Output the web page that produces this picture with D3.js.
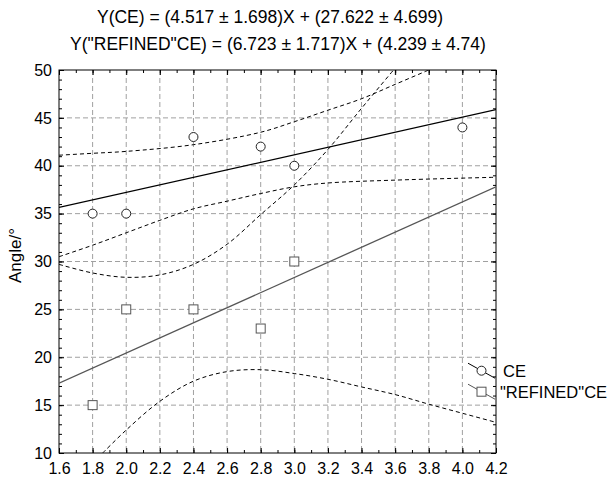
<!DOCTYPE html>
<html>
<head>
<meta charset="utf-8">
<script src="https://cdn.jsdelivr.net/npm/d3@7"></script>
<style>
  body { margin: 0; background: #fff; }
  text { font-family: "Liberation Sans", Arial, sans-serif; }
</style>
</head>
<body>
<div id="chart"></div>
<script>
// observed points
const ceX = [1.8, 2.0, 2.4, 2.8, 3.0, 4.0];
const ceY = [35, 35, 43, 42, 40, 44];
const refX = [1.8, 2.0, 2.4, 2.8, 3.0];
const refY = [15, 25, 25, 23, 30];

// dashed band curves
const ceUpper = [[1.6, 41.1], [1.8, 41.3], [2.0, 41.5], [2.4, 42.2], [2.8, 43.5], [3.0, 44.6], [3.2, 45.8], [3.4, 47.0], [3.6, 48.5], [3.8, 50.0]];
const ceLower = [[1.6, 30.5], [1.8, 31.7], [2.0, 33.0], [2.2, 34.3], [2.4, 35.5], [2.6, 36.3], [2.8, 37.1], [3.0, 37.8], [3.2, 38.2], [3.6, 38.5], [4.2, 38.8]];
const refUpper = [[1.6, 29.7], [1.8, 28.8], [2.0, 28.35], [2.2, 28.6], [2.4, 29.7], [2.6, 31.8], [2.8, 34.9], [3.0, 38.0], [3.2, 41.7], [3.4, 46.0], [3.6, 50.2]];
const refLower = [[1.86, 10], [2.0, 12.4], [2.2, 15.4], [2.4, 17.5], [2.6, 18.5], [2.8, 18.7], [3.0, 18.3], [3.2, 17.7], [3.4, 16.9], [3.6, 16.1], [3.8, 15.1], [4.0, 14.15], [4.2, 13.2]];

const xTicks = [1.6, 1.8, 2.0, 2.2, 2.4, 2.6, 2.8, 3.0, 3.2, 3.4, 3.6, 3.8, 4.0, 4.2];
const yTicks = [10, 15, 20, 25, 30, 35, 40, 45, 50];
const titles = ["Y(CE) = (4.517 ± 1.698)X + (27.622 ± 4.699)",
                "Y(\"REFINED\"CE) = (6.723 ± 1.717)X + (4.239 ± 4.74)"];
const seriesNames = ["CE", "\"REFINED\"CE"];

const W = 615, H = 483;
const margin = {top: 70, right: 119, bottom: 30, left: 59};
const width = W - margin.left - margin.right;
const height = H - margin.top - margin.bottom;

const svg = d3.select("#chart").append("svg")
    .attr("width", W).attr("height", H);

svg.append("defs").append("clipPath").attr("id", "plotclip")
  .append("rect").attr("width", width).attr("height", height);

const g = svg.append("g").attr("transform", `translate(${margin.left},${margin.top})`);

const x = d3.scaleLinear().domain([1.6, 4.2]).range([0, width]);
const y = d3.scaleLinear().domain([10, 50]).range([height, 0]);

// grid
g.append("g").selectAll("line")
  .data(xTicks.slice(1, -1))
  .join("line")
    .attr("x1", d => x(d)).attr("x2", d => x(d))
    .attr("y1", 0).attr("y2", height)
    .attr("stroke", "#a0a0a0").attr("stroke-dasharray", "5,3");
g.append("g").selectAll("line")
  .data(yTicks.slice(1, -1))
  .join("line")
    .attr("y1", d => y(d)).attr("y2", d => y(d))
    .attr("x1", 0).attr("x2", width)
    .attr("stroke", "#a0a0a0").attr("stroke-dasharray", "5,3");

// axes, ticks inside on all four sides
const xMinor = d3.range(16, 43).map(d => d / 10);
const yMinor = d3.range(10, 51);

function styleAxis(sel) {
  sel.select(".domain").remove();
  sel.selectAll("line").attr("stroke", "#000");
  sel.selectAll("text").style("font-size", "16px").attr("fill", "#000");
}

g.append("g").attr("transform", `translate(0,${height})`)
  .call(d3.axisBottom(x).tickValues(xTicks).tickFormat(d3.format(".1f")).tickSize(-5).tickPadding(10))
  .call(styleAxis);
g.append("g").attr("transform", `translate(0,${height})`)
  .call(d3.axisBottom(x).tickValues(xMinor).tickFormat("").tickSize(-3)).call(styleAxis);
g.append("g")
  .call(d3.axisTop(x).tickValues(xTicks).tickFormat("").tickSize(-5)).call(styleAxis);
g.append("g")
  .call(d3.axisTop(x).tickValues(xMinor).tickFormat("").tickSize(-3)).call(styleAxis);

g.append("g")
  .call(d3.axisLeft(y).tickValues(yTicks).tickSize(-5).tickPadding(7))
  .call(styleAxis);
g.append("g")
  .call(d3.axisLeft(y).tickValues(yMinor).tickFormat("").tickSize(-3)).call(styleAxis);
g.append("g").attr("transform", `translate(${width},0)`)
  .call(d3.axisRight(y).tickValues(yTicks).tickFormat("").tickSize(-5)).call(styleAxis);
g.append("g").attr("transform", `translate(${width},0)`)
  .call(d3.axisRight(y).tickValues(yMinor).tickFormat("").tickSize(-3)).call(styleAxis);

g.append("rect").attr("width", width).attr("height", height)
  .attr("fill", "none").attr("stroke", "#000");

// least squares fit of each series
function fit(xs, ys) {
  const mx = d3.mean(xs), my = d3.mean(ys);
  const sxy = d3.sum(xs, (v, i) => (v - mx) * (ys[i] - my));
  const sxx = d3.sum(xs, v => (v - mx) * (v - mx));
  const b = sxy / sxx;
  return {b: b, a: my - b * mx};
}
const plot = g.append("g").attr("clip-path", "url(#plotclip)");

const ceFit = fit(ceX, ceY), refFit = fit(refX, refY);
[[refFit, "#555"], [ceFit, "#000"]].forEach(([f, col]) => {
  plot.append("line")
    .attr("x1", x(1.6)).attr("y1", y(f.a + f.b * 1.6))
    .attr("x2", x(4.2)).attr("y2", y(f.a + f.b * 4.2))
    .attr("stroke", col).attr("stroke-width", 1.3);
});

// confidence bands
const band = d3.line().x(d => x(d[0])).y(d => y(d[1])).curve(d3.curveCatmullRom.alpha(0.5));
[ceUpper, ceLower, refUpper, refLower].forEach(b => {
  plot.append("path").datum(b)
    .attr("d", band)
    .attr("fill", "none").attr("stroke", "#000")
    .attr("stroke-width", 1).attr("stroke-dasharray", "4,3");
});

// markers
g.append("g").selectAll("circle")
  .data(ceX.map((v, i) => [v, ceY[i]]))
  .join("circle")
    .attr("cx", d => x(d[0])).attr("cy", d => y(d[1])).attr("r", 4.5)
    .attr("fill", "#fff").attr("stroke", "#222");
g.append("g").selectAll("rect")
  .data(refX.map((v, i) => [v, refY[i]]))
  .join("rect")
    .attr("x", d => x(d[0]) - 4.5).attr("y", d => y(d[1]) - 4.5)
    .attr("width", 9).attr("height", 9)
    .attr("fill", "#fff").attr("stroke", "#555");

// titles
titles.forEach((t, i) => {
  svg.append("text")
    .attr("x", i === 0 ? 270 : 278).attr("y", i === 0 ? 23 : 50)
    .attr("text-anchor", "middle")
    .style("font-size", "17.5px")
    .text(t);
});

// y label
svg.append("text")
  .attr("transform", `translate(21,${margin.top + height / 2 - 6}) rotate(-90)`)
  .attr("text-anchor", "middle")
  .style("font-size", "17px")
  .text("Angle/°");

// legend
const lx = 468, lw = 27;
const legend = svg.append("g");
[[370.7, "#000", "circle"], [391.7, "#555", "square"]].forEach(([cy, col, shape], i) => {
  legend.append("line")
    .attr("x1", lx).attr("y1", cy - 7.5).attr("x2", lx + lw).attr("y2", cy + 7.5)
    .attr("stroke", col).attr("stroke-width", 1);
  if (shape === "circle") {
    legend.append("circle").attr("cx", lx + 13.5).attr("cy", cy).attr("r", 4.5)
      .attr("fill", "#fff").attr("stroke", "#222");
  } else {
    legend.append("rect").attr("x", lx + 9).attr("y", cy - 4.5).attr("width", 9).attr("height", 9)
      .attr("fill", "#fff").attr("stroke", "#555");
  }
  legend.append("text")
    .attr("x", i === 0 ? 503 : 500).attr("y", cy + 6)
    .style("font-size", "16.5px")
    .text(seriesNames[i]);
});
</script>
</body>
</html>
